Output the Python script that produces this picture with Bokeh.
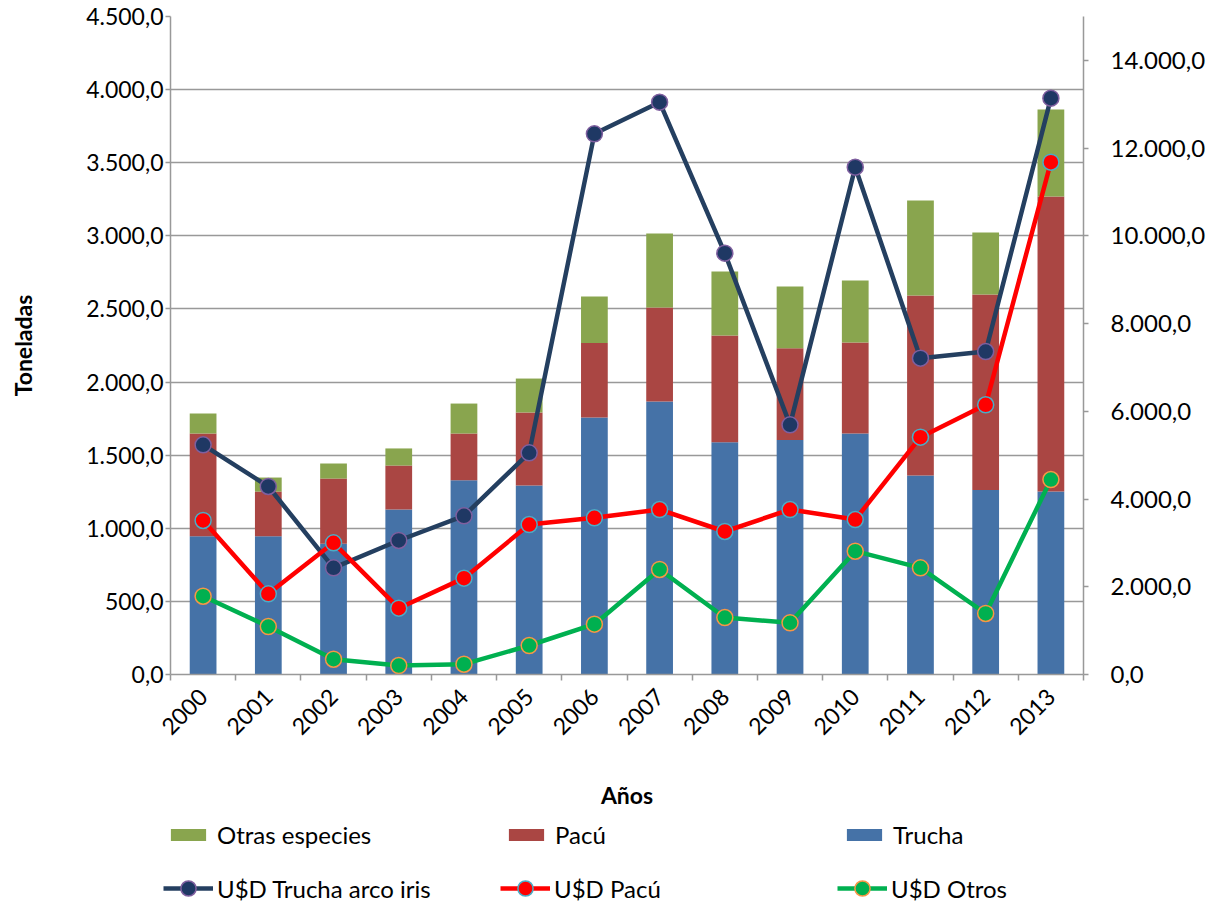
import math
from bokeh.plotting import figure
from bokeh.layouts import column
from bokeh.models import Range1d, LinearAxis, FixedTicker, Legend, LegendItem, ColumnDataSource
from bokeh.embed import file_html
from bokeh.resources import INLINE

years = ["2000", "2001", "2002", "2003", "2004", "2005", "2006",
         "2007", "2008", "2009", "2010", "2011", "2012", "2013"]
trucha = [946, 946, 894, 1128, 1329, 1293, 1758, 1867, 1589, 1603, 1648, 1361, 1261, 1252]
pacu = [702, 305, 446, 301, 319, 499, 509, 643, 729, 629, 623, 1231, 1338, 2017]
otras = [137, 96, 103, 117, 205, 232, 318, 506, 438, 422, 424, 650, 424, 595]
usd_trucha = [5236, 4286, 2432, 3055, 3617, 5053, 12325, 13047, 9605, 5691, 11565, 7211, 7363, 13138]
usd_pacu = [3511, 1839, 3002, 1512, 2196, 3419, 3572, 3761, 3260, 3761, 3533, 5410, 6148, 11679]
usd_otros = [1785, 1094, 349, 205, 235, 661, 1147, 2394, 1299, 1178, 2811, 2432, 1391, 4445]
left_ticks = [0, 500, 1000, 1500, 2000, 2500, 3000, 3500, 4000, 4500]
right_ticks = [0, 2000, 4000, 6000, 8000, 10000, 12000, 14000]

bar_colors = ["#4572A7", "#AA4643", "#89A54E"]
line_colors = ["#243F60", "#FF0000", "#00B050"]
marker_fill = ["#1F3864", "#FF0000", "#00B050"]
marker_line = ["#7F5F9F", "#4BACC6", "#F79646"]
bar_names = ["Trucha", "Pacú", "Otras especies"]
line_names = ["U$D Trucha arco iris", "U$D Pacú", "U$D Otros"]


def fmt(v):
    s = f"{v:,.1f}"
    return s.replace(",", "X").replace(".", ",").replace("X", ".")


FONT = "Lato"
FS = "23px"
xs = [i + 0.5 for i in range(len(years))]
src = ColumnDataSource(dict(x=xs, trucha=trucha, pacu=pacu, otras=otras,
                            ut=usd_trucha, up=usd_pacu, uo=usd_otros))

p = figure(frame_width=913, frame_height=658, output_backend="svg", toolbar_location=None,
           x_range=Range1d(0, len(years)), y_range=Range1d(0, 4500),
           min_border_left=170, min_border_right=125, min_border_top=16, min_border_bottom=142)
p.extra_y_ranges = {"usd": Range1d(0, 15000)}
p.outline_line_color = None
p.background_fill_color = "white"
p.border_fill_color = "white"

p.vbar_stack(["trucha", "pacu", "otras"], x="x", width=0.41, source=src,
             color=bar_colors, line_color=None)

for i, col in enumerate(["ut", "up", "uo"]):
    p.line("x", col, source=src, y_range_name="usd", line_color=line_colors[i], line_width=4.5)
    p.scatter("x", col, source=src, y_range_name="usd", size=16, fill_color=marker_fill[i],
              line_color=marker_line[i], line_width=1.5)

# x axis
xa = p.xaxis[0]
xa.ticker = FixedTicker(ticks=xs, minor_ticks=list(range(len(years) + 1)))
xa.major_label_overrides = {x: y for x, y in zip(xs, years)}
xa.major_label_orientation = math.pi / 4
xa.major_tick_out = 0
xa.major_tick_in = 0
xa.minor_tick_out = 6
xa.minor_tick_in = 0
xa.minor_tick_line_color = "#999999"
xa.minor_tick_line_width = 1.5
xa.axis_line_color = "#999999"
xa.axis_line_width = 1.5
xa.major_label_text_font = FONT
xa.major_label_text_font_size = FS
xa.major_label_text_color = "black"
xa.major_label_standoff = 12
xa.axis_label = "Años"
xa.axis_label_text_font = FONT
xa.axis_label_text_font_size = FS
xa.axis_label_text_font_style = "bold"
xa.axis_label_text_color = "black"
xa.axis_label_standoff = 36

# left axis
ya = p.yaxis[0]
ya.ticker = FixedTicker(ticks=left_ticks, minor_ticks=[])
ya.major_label_overrides = {t: fmt(t) for t in left_ticks}
ya.major_tick_out = 5
ya.major_tick_in = 0
ya.major_tick_line_color = "#999999"
ya.major_tick_line_width = 1.5
ya.axis_line_color = "#999999"
ya.axis_line_width = 1.5
ya.major_label_text_font = FONT
ya.major_label_text_font_size = FS
ya.major_label_text_color = "black"
ya.major_label_standoff = 2
ya.axis_label = "Toneladas"
ya.axis_label_text_font = FONT
ya.axis_label_text_font_size = FS
ya.axis_label_text_font_style = "bold"
ya.axis_label_text_color = "black"
ya.axis_label_standoff = 46

# right axis
ra = LinearAxis(y_range_name="usd", ticker=FixedTicker(ticks=right_ticks, minor_ticks=[]))
ra.major_label_overrides = {t: fmt(t) for t in right_ticks}
ra.major_tick_out = 5
ra.major_tick_in = 0
ra.major_tick_line_color = "#999999"
ra.major_tick_line_width = 1.5
ra.axis_line_color = "#999999"
ra.axis_line_width = 1.5
ra.major_label_text_font = FONT
ra.major_label_text_font_size = "24px"
ra.major_label_text_color = "black"
ra.major_label_standoff = 22
p.add_layout(ra, "right")

p.xgrid.visible = False
p.ygrid.grid_line_color = "#999999"
p.ygrid.grid_line_width = 1.5

# legend strip: same series drawn with the same styles, kept outside its visible range
lf = figure(frame_width=1208, frame_height=91, output_backend="svg", toolbar_location=None,
            x_range=Range1d(-100, -99), y_range=Range1d(0, 1), x_axis_type=None,
            y_axis_type=None, min_border=0)
lf.outline_line_color = None
lf.grid.visible = False
bar_r = lf.vbar_stack(["trucha", "pacu", "otras"], x="x", width=0.41, source=src,
                      color=bar_colors, line_color=None)
line_r = []
for i, col in enumerate(["ut", "up", "uo"]):
    lr = lf.line("x", col, source=src, line_color=line_colors[i], line_width=4.5)
    sr = lf.scatter("x", col, source=src, size=16, fill_color=marker_fill[i],
                    line_color=marker_line[i], line_width=1.5)
    line_r.append([lr, sr])

leg_bars = Legend(items=[LegendItem(label=bar_names[2], renderers=[bar_r[2]]),
                         LegendItem(label=bar_names[1], renderers=[bar_r[1]]),
                         LegendItem(label=bar_names[0], renderers=[bar_r[0]])],
                  orientation="horizontal", location=(166, 58),
                  border_line_color=None, background_fill_alpha=0,
                  label_text_font=FONT, label_text_font_size="24px", label_text_color="black",
                  glyph_width=44, glyph_height=15, label_height=26, label_width=261,
                  label_standoff=7, spacing=26, padding=0, margin=0)
leg_lines = Legend(items=[LegendItem(label=line_names[0], renderers=line_r[0]),
                          LegendItem(label=line_names[1], renderers=line_r[1]),
                          LegendItem(label=line_names[2], renderers=line_r[2])],
                   orientation="horizontal", location=(163, 0),
                   border_line_color=None, background_fill_alpha=0,
                   label_text_font=FONT, label_text_font_size="24px", label_text_color="black",
                   glyph_width=50, glyph_height=38, label_height=26, label_width=257,
                   label_standoff=4, spacing=26, padding=0, margin=0)
lf.add_layout(leg_bars, "center")
lf.add_layout(leg_lines, "center")

layout = column(p, lf, spacing=0)
open("out.html", "w").write(file_html(layout, INLINE))
